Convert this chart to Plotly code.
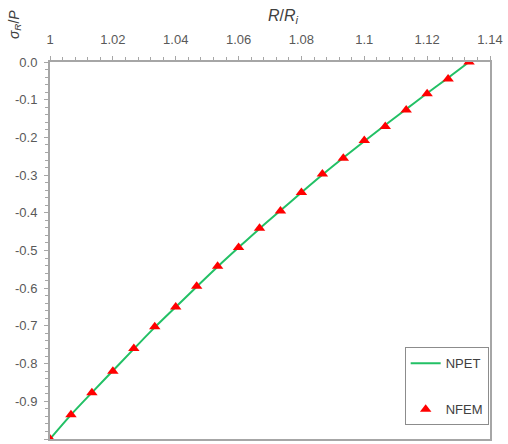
import plotly.graph_objects as go

# Radial position R/R_i (21 evenly spaced stations through the wall)
r_ratio = [1.0, 1.00667, 1.01333, 1.02, 1.02667, 1.03333, 1.04, 1.04667, 1.05333, 1.06,
           1.06667, 1.07333, 1.08, 1.08667, 1.09333, 1.1, 1.10667, 1.11333, 1.12,
           1.12667, 1.13333]

# Normalised radial stress sigma_R / P
sigma_npet = [-1.000, -0.936, -0.877, -0.819, -0.761, -0.704, -0.650, -0.596, -0.543,
              -0.492, -0.442, -0.394, -0.346, -0.299, -0.254, -0.210, -0.167, -0.125,
              -0.083, -0.042, 0.000]
sigma_nfem = [-1.000, -0.936, -0.877, -0.820, -0.760, -0.702, -0.650, -0.595, -0.542,
              -0.492, -0.441, -0.395, -0.346, -0.297, -0.255, -0.208, -0.171, -0.127,
              -0.084, -0.045, 0.000]

x_ticks = [1.0, 1.02, 1.04, 1.06, 1.08, 1.1, 1.12, 1.14]
x_tick_text = ["1", "1.02", "1.04", "1.06", "1.08", "1.1", "1.12", "1.14"]
y_ticks = [0.0, -0.1, -0.2, -0.3, -0.4, -0.5, -0.6, -0.7, -0.8, -0.9, -1.0]
y_tick_text = ["0.0", "-0.1", "-0.2", "-0.3", "-0.4", "-0.5", "-0.6", "-0.7", "-0.8", "-0.9", "-1.0"]

axis_grey = "#a6a6a6"
text_grey = "#595959"
font_family = "Liberation Sans, Arial, sans-serif"

fig = go.Figure()
fig.add_trace(go.Scatter(
    x=r_ratio, y=sigma_npet, mode="lines", name="NPET",
    line=dict(color="#22c065", width=2, shape="spline"),
    legendgroup="a",
))
fig.add_trace(go.Scatter(
    x=r_ratio, y=sigma_nfem, mode="markers", name="NFEM",
    marker=dict(symbol="triangle-up", size=10, color="#ff0000"),
    legendgroup="b",
))

fig.update_layout(
    width=508, height=444,
    margin=dict(l=50, r=18, t=62, b=3),
    paper_bgcolor="white", plot_bgcolor="white",
    font=dict(family=font_family, size=13, color=text_grey),
    showlegend=True,
    legend=dict(
        x=0.997, y=0.243, xanchor="right", yanchor="top",
        bgcolor="white", bordercolor="#8c8c8c", borderwidth=1,
        font=dict(size=13, color="#404040"),
        traceorder="grouped", tracegroupgap=26,
        itemwidth=30, entrywidth=58,
    ),
    xaxis=dict(
        side="top", range=[1.0, 1.14], tickmode="array",
        tickvals=x_ticks, ticktext=x_tick_text,
        showgrid=False, zeroline=False,
        showline=True, linecolor=axis_grey, linewidth=2, mirror=True,
        ticks="outside", ticklen=4, tickwidth=1, tickcolor=axis_grey,
        minor=dict(dtick=0.004, ticks="outside", ticklen=3, tickcolor=axis_grey),
        ticklabelstandoff=7,
    ),
    yaxis=dict(
        range=[-1.0, 0.0], tickmode="array",
        tickvals=y_ticks, ticktext=y_tick_text,
        showgrid=False, zeroline=False,
        showline=True, linecolor=axis_grey, linewidth=2, mirror=True,
        ticks="outside", ticklen=4, tickwidth=1, tickcolor=axis_grey,
        minor=dict(dtick=0.02, ticks="outside", ticklen=3, tickcolor=axis_grey),
        ticklabelstandoff=4,
    ),
    annotations=[
        dict(text="<i>R</i>/<i>R</i><sub><i>i</i></sub>", xref="paper", yref="paper",
             x=0.53, y=1.12, xanchor="center", yanchor="middle", showarrow=False,
             font=dict(size=16, color="#404040")),
        dict(text="<i>σ</i><sub><i>R</i></sub>/<i>P</i>", xref="paper", yref="paper",
             x=-0.08, y=1.1, xanchor="center", yanchor="middle", showarrow=False,
             textangle=-90, font=dict(size=14, color="#404040")),
    ],
)

fig.write_html("out.html")
